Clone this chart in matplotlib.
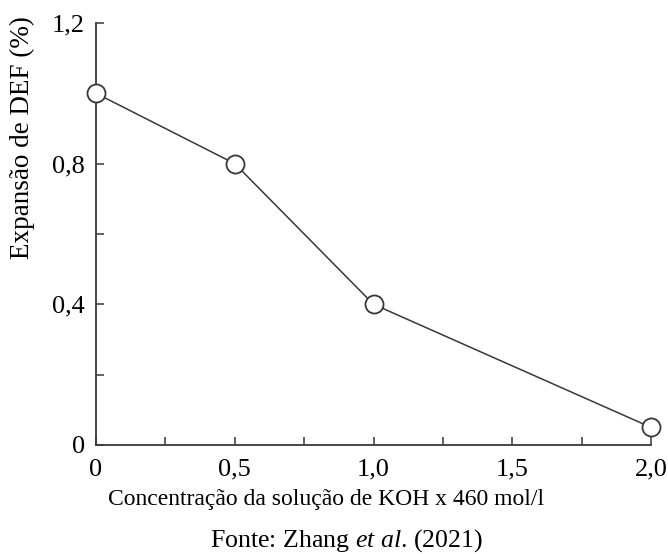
import numpy as np
import matplotlib.pyplot as plt
from matplotlib.ticker import MultipleLocator

# Données
concentracao = [0.0, 0.5, 1.0, 2.0]
expansao = [1.0, 0.8, 0.4, 0.05]
x_ticks = [0.0, 0.5, 1.0, 1.5, 2.0]
x_tick_labels = ['0', '0,5', '1,0', '1,5', '2,0']
y_ticks = [0.0, 0.4, 0.8, 1.2]
y_tick_labels = ['0', '0,4', '0,8', '1,2']

plt.rcParams['font.family'] = ['Liberation Serif', 'DejaVu Serif']
plt.rcParams['mathtext.fontset'] = 'custom'
plt.rcParams['mathtext.it'] = 'Liberation Serif:italic'
plt.rcParams['mathtext.rm'] = 'Liberation Serif'

fig = plt.figure(figsize=(6.68, 5.54), dpi=100)
ax = fig.add_axes([0.1437, 0.1968, 0.8309, 0.7617])

cor = '#383838'
ax.plot(concentracao, expansao, color=cor, lw=1.1, marker='o', ms=13,
        mfc='white', mec=cor, mew=1.3, clip_on=False, zorder=3)

ax.set_xlim(0, 2.0)
ax.set_ylim(0, 1.2)
ax.set_xticks(x_ticks)
ax.set_xticklabels(x_tick_labels)
ax.set_yticks(y_ticks)
ax.set_yticklabels(y_tick_labels)
ax.xaxis.set_minor_locator(MultipleLocator(0.25))
ax.yaxis.set_minor_locator(MultipleLocator(0.2))

for s in ['top', 'right']:
    ax.spines[s].set_visible(False)
for s in ['left', 'bottom']:
    ax.spines[s].set_color(cor)
    ax.spines[s].set_linewidth(1.3)

ax.tick_params(which='both', direction='in', color=cor, width=1.1,
               length=6, labelsize=19, labelcolor='black')
ax.tick_params(axis='x', pad=10)
ax.tick_params(axis='y', pad=8)

fig.text(0.488, 0.099, 'Concentração da solução de KOH x 460 mol/l',
         ha='center', va='center', fontsize=17)
fig.text(0.033, 0.751, 'Expansão de DEF (%)', rotation=90,
         ha='center', va='center', fontsize=19.5)
fig.text(0.519, 0.024, r'Fonte: Zhang $\it{et\ al}$. (2021)',
         ha='center', va='center', fontsize=18.6)

fig.savefig('out.png', dpi=100)
